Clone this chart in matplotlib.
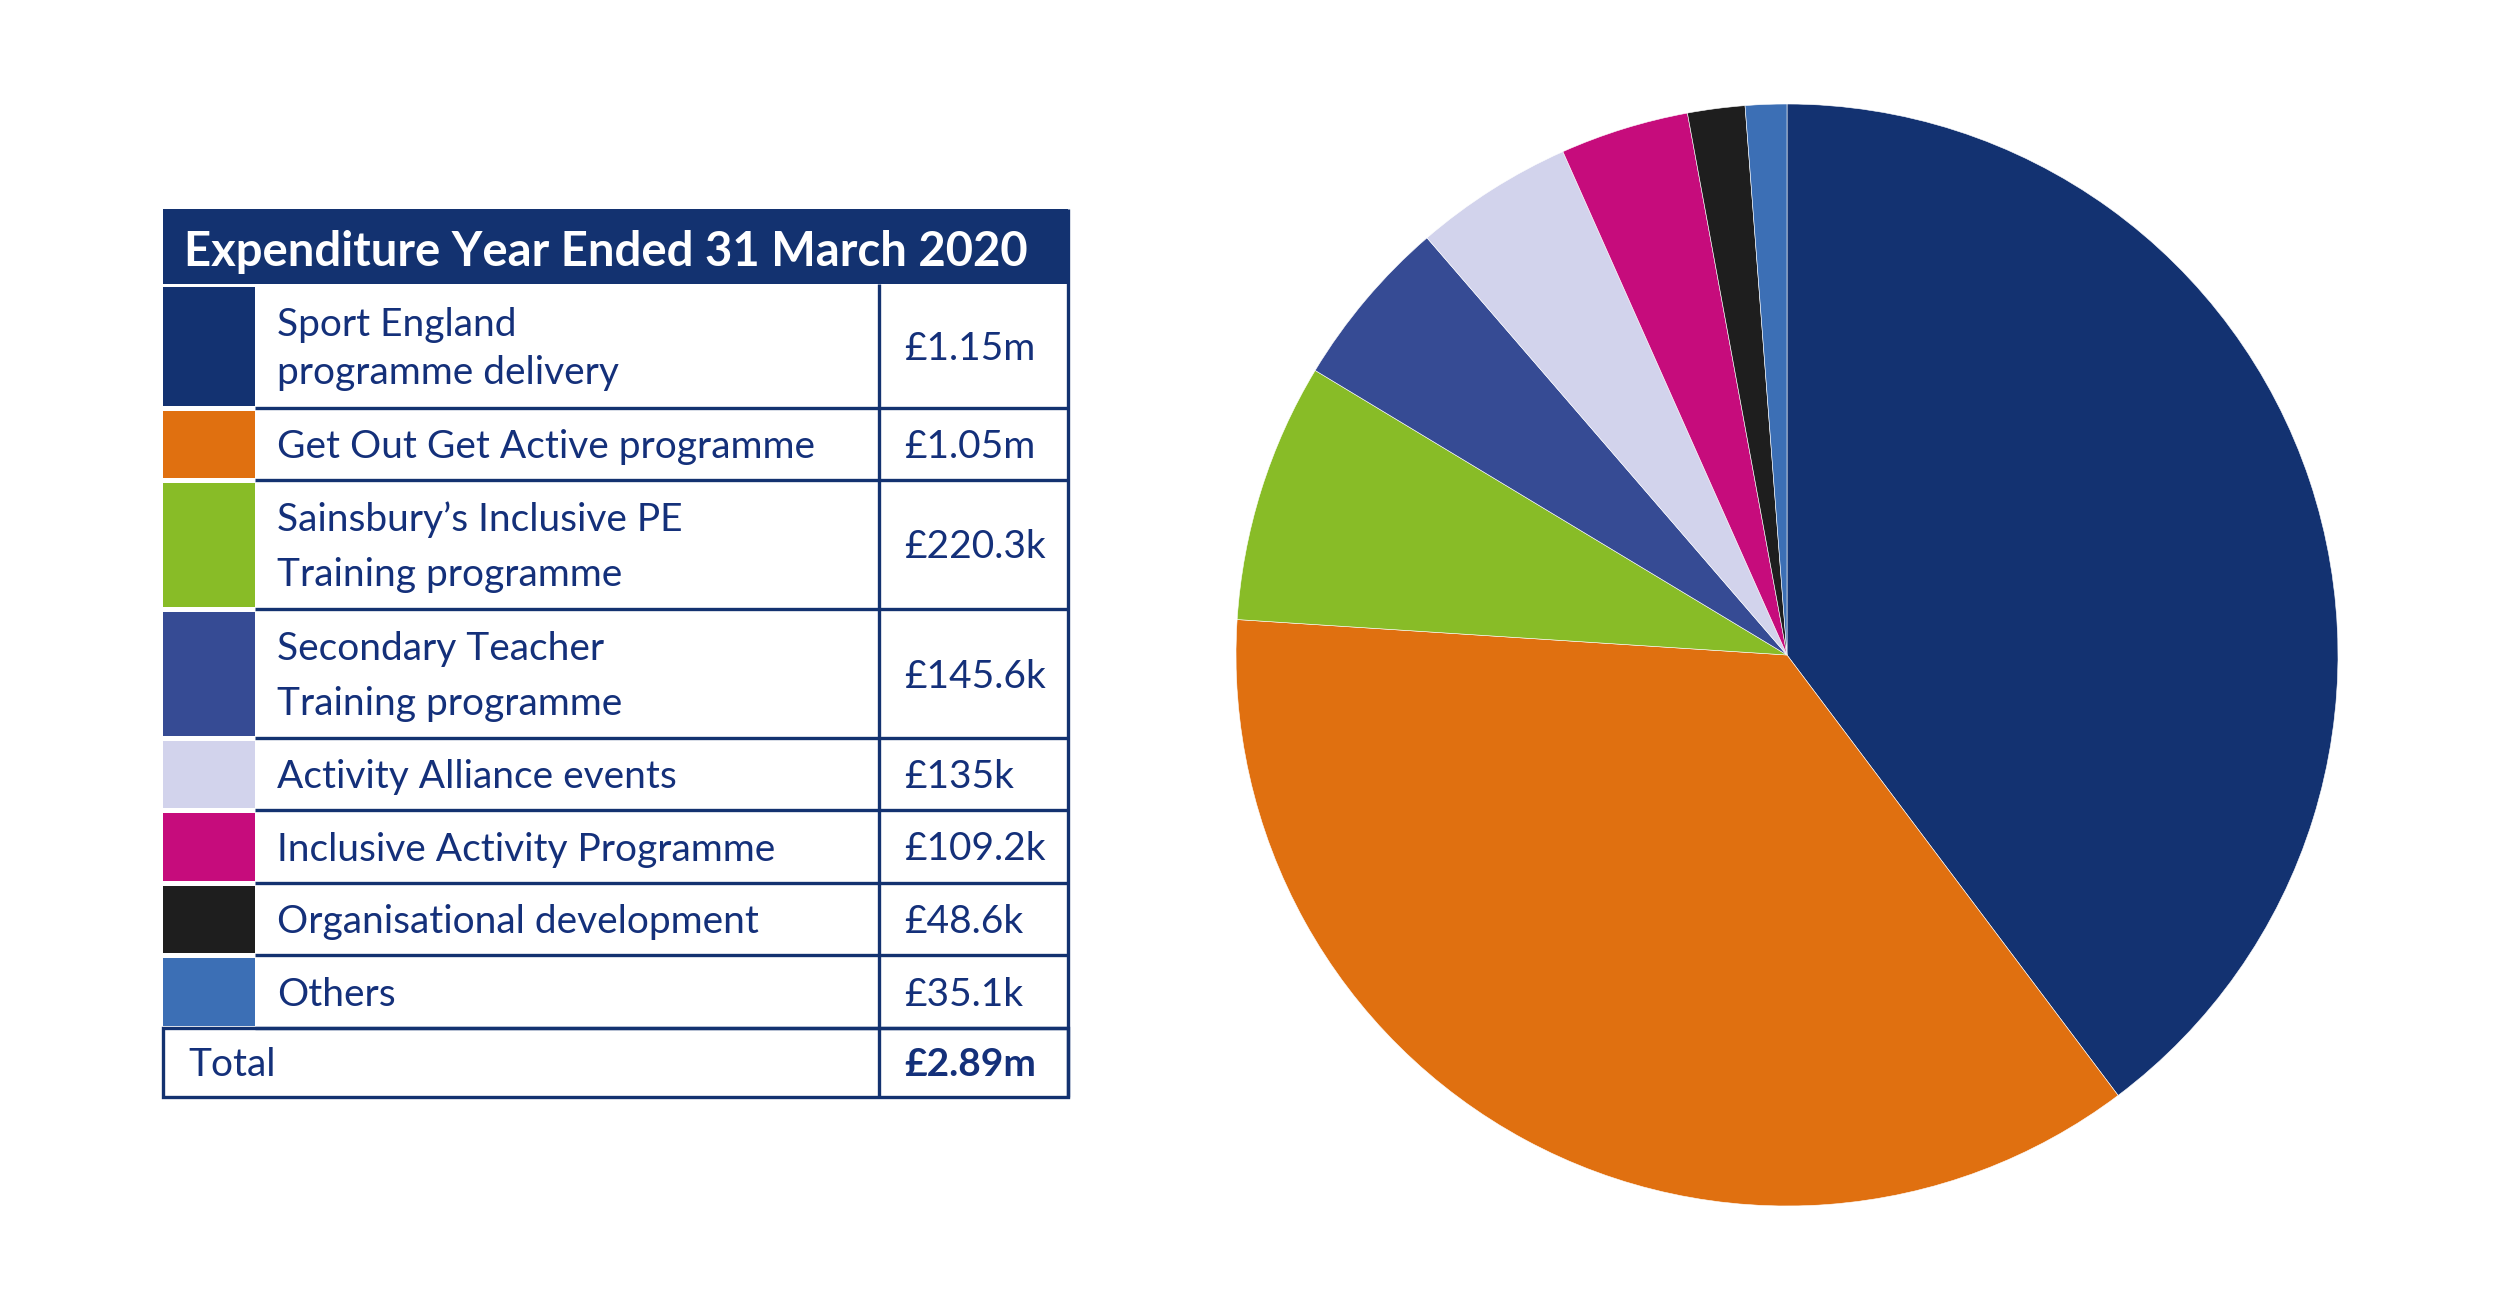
import matplotlib
matplotlib.use("Agg")
import matplotlib.pyplot as plt
from matplotlib.patches import Rectangle

# expenditure, year ended 31 March 2020 (in £k)
labels = [
    "Sport England\nprogramme delivery",
    "Get Out Get Active programme",
    "Sainsbury’s Inclusive PE\nTraining programme",
    "Secondary Teacher\nTraining programme",
    "Activity Alliance events",
    "Inclusive Activity Programme",
    "Organisational development",
    "Others",
]
value_labels = ["£1.15m", "£1.05m", "£220.3k", "£145.6k", "£135k", "£109.2k", "£48.6k", "£35.1k"]
spend_k = [1150, 1050, 220.3, 145.6, 135, 109.2, 48.6, 35.1]
colors = ["#133271", "#e07010", "#88bc27", "#364b94", "#d2d3ec", "#c60c7c", "#1e1e1e", "#3c6fb5"]
title = "Expenditure Year Ended 31 March 2020"
total_label = "Total"
total_value = "£2.89m"

NAVY = "#133270"
TEXT = "#14307a"
FONT = "Lato"

W, H = 2500, 1308
fig = plt.figure(figsize=(W / 100, H / 100), dpi=100)

# ---- pie ----
cx, cy, r = 1787, 655, 551
pax = fig.add_axes([(cx - r) / W, 1 - (cy + r) / H, 2 * r / W, 2 * r / H])
pax.pie(spend_k, colors=colors, startangle=90, counterclock=False,
        wedgeprops=dict(edgecolor="white", linewidth=0.4))
pax.set_xlim(-1, 1)
pax.set_ylim(-1, 1)
pax.set_aspect("equal")
pax.axis("off")

# ---- table (drawn in pixel coordinates) ----
tax = fig.add_axes([0, 0, 1, 1], zorder=-1)
tax.set_xlim(0, W)
tax.set_ylim(H, 0)
tax.axis("off")

left, sw_right, val_x0, right = 163, 255, 879, 1068
head_top, head_bot = 209, 284
row_heights = [124, 72, 129, 129, 72, 73, 72, 73]
total_h = 69
lw = 2.4

fs = 28
tax.add_patch(Rectangle((left, head_top), right - left, head_bot - head_top,
                        facecolor=NAVY, edgecolor="none"))
tax.text(184, 266, title, color="white", fontsize=34, fontweight="bold",
         family=FONT, va="baseline", ha="left")

y = head_bot
for i, (lab, val, col) in enumerate(zip(labels, value_labels, colors)):
    h = row_heights[i]
    top, bot = y, y + h
    tax.add_patch(Rectangle((left, top + 3), sw_right - left, h - 5,
                            facecolor=col, edgecolor="none"))
    c = (top + bot) / 2
    lines = lab.split("\n")
    gap = 48 if i == 0 else 55
    for k, line in enumerate(lines):
        base = c + 14 + (k - (len(lines) - 1) / 2) * gap
        tax.text(277, base, line, color=TEXT, fontsize=fs, family=FONT,
                 va="baseline", ha="left")
    tax.text(904, c + 14, val, color=TEXT, fontsize=fs, family=FONT,
             va="baseline", ha="left")
    tax.plot([sw_right, right], [bot, bot], color=NAVY, lw=lw, solid_capstyle="butt")
    y = bot

# total row
ttop, tbot = y, y + total_h
tax.add_patch(Rectangle((left, ttop), right - left, total_h, facecolor="none",
                        edgecolor=NAVY, lw=lw))
tc = (ttop + tbot) / 2
tax.text(188, tc + 14, total_label, color=TEXT, fontsize=fs, family=FONT,
         va="baseline", ha="left")
tax.text(904, tc + 14, total_value, color=TEXT, fontsize=fs, family=FONT,
         fontweight="bold", va="baseline", ha="left")

# vertical rules
tax.plot([val_x0, val_x0], [head_bot, tbot], color=NAVY, lw=lw, solid_capstyle="butt")
tax.plot([right, right], [head_top, tbot], color=NAVY, lw=lw, solid_capstyle="butt")

fig.savefig("out.png", dpi=100, facecolor="white")
